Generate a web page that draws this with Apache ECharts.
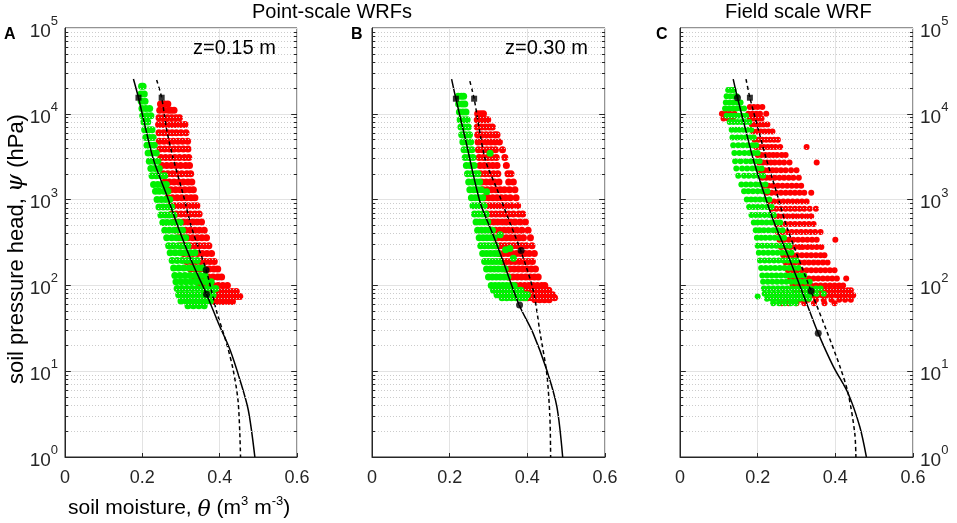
<!DOCTYPE html>
<head>
    <meta charset="utf-8">
    <title>WRF</title>
    <style>
        html, body { margin: 0; padding: 0; background: #fff; }
        #main { width: 957px; height: 523px; }
    </style>
</head>
<body>
<div id="main"></div>
<script src="https://cdn.jsdelivr.net/npm/echarts@6/dist/echarts.min.js"></script>
<script type="text/javascript">
    // tick values
    var xTicks = [0, 0.2, 0.4, 0.6];
    var yMin = 1, yMax = 100000;

    // scatter clouds, one row per psi level: [psi (hPa), theta, theta, ...]
    var greenA = [
        [21000, .198, .202], [17000, .196, .205], [14000, .197, .207],
        [11500, .199, .209, .219], [9500, .201, .212, .222], [8000, .204, .214],
        [6500, .206, .217, .225], [5300, .209, .219, .228], [4300, .212, .222, .231],
        [3500, .215, .225, .236], [2800, .218, .229, .240], [2300, .222, .233, .244],
        [1900, .225, .236, .248, .258], [1500, .229, .240, .251, .262],
        [1250, .234, .244, .256, .266], [1000, .238, .249, .260, .271],
        [820, .243, .254, .265, .276], [660, .248, .259, .270, .282],
        [540, .253, .264, .276, .288, .298], [440, .258, .270, .282, .294, .304],
        [360, .263, .276, .288, .300, .312], [290, .268, .280, .293, .306, .318],
        [240, .272, .285, .298, .311, .324, .336], [195, .277, .290, .303, .316, .329, .342],
        [160, .281, .294, .307, .320, .333, .346, .356], [130, .284, .297, .310, .323, .336, .349, .362],
        [110, .287, .300, .313, .326, .339, .352, .365, .378],
        [92, .290, .302, .315, .328, .341, .354, .367, .380, .390],
        [78, .294, .306, .318, .331, .344, .357, .370, .383],
        [66, .300, .313, .326, .339, .352, .365, .376], [58, .318, .332, .346, .360]
    ];
    var redA = [
        [13000, .247, .258, .266], [11000, .245, .256, .267, .274, .282],
        [9000, .243, .254, .265, .276, .287, .296], [7500, .242, .253, .264, .275, .286, .298, .310],
        [6000, .243, .255, .266, .277, .288, .300, .313], [4800, .244, .256, .268, .280, .292, .304, .317],
        [3900, .246, .258, .270, .282, .294, .306, .318], [3100, .248, .260, .272, .284, .296, .309, .320],
        [2500, .251, .263, .275, .287, .299, .312, .322], [2000, .254, .266, .278, .290, .302, .315, .325],
        [1600, .258, .270, .282, .294, .306, .318, .328], [1300, .262, .274, .286, .298, .310, .322, .332],
        [1050, .266, .278, .290, .302, .314, .326, .336], [850, .271, .283, .295, .307, .319, .331, .341],
        [680, .276, .288, .300, .312, .324, .336, .347], [550, .282, .294, .306, .318, .330, .342, .353],
        [440, .288, .300, .312, .324, .336, .348, .360], [360, .294, .306, .318, .330, .342, .354, .366],
        [290, .300, .312, .324, .336, .348, .360, .372], [235, .307, .319, .331, .343, .355, .367, .379],
        [190, .315, .327, .339, .351, .363, .375, .386], [155, .325, .337, .349, .361, .373, .385, .395],
        [125, .335, .347, .359, .371, .383, .395, .405], [100, .348, .360, .372, .384, .396, .408, .420],
        [85, .360, .372, .384, .396, .408, .420, .432, .443],
        [74, .372, .384, .396, .408, .420, .432, .444, .452], [65, .385, .397, .409, .421, .433]
    ];
    var greenB = [
        [16000, .222, .230, .236], [13000, .223, .232, .239], [10500, .225, .234, .242],
        [8500, .227, .236, .245], [7000, .229, .238, .248], [5700, .231, .241, .251],
        [4700, .234, .244, .254], [3800, .237, .247, .257], [3100, .240, .250, .260],
        [2500, .243, .253, .263], [2000, .246, .256, .266, .273], [1600, .249, .259, .269, .277],
        [1300, .252, .262, .272, .281], [1050, .256, .266, .276, .285], [850, .260, .270, .280, .289],
        [680, .264, .274, .284, .294], [550, .268, .278, .288, .298],
        [440, .272, .282, .292, .302, .310], [360, .276, .286, .296, .306, .314],
        [290, .280, .290, .300, .310, .319], [235, .285, .295, .305, .315, .324],
        [190, .290, .300, .310, .320, .330], [155, .295, .305, .315, .325, .335, .343],
        [125, .300, .310, .320, .330, .340, .350], [100, .307, .317, .327, .337, .347, .357, .366],
        [88, .313, .323, .333, .343, .353, .363, .373, .383],
        [78, .322, .332, .342, .352, .362, .372, .382, .392, .400],
        [72, .335, .347, .359, .371, .383, .395],
        [3460, .304], [1236, .295], [390, .330], [270, .355], [260, .344], [207, .364]
    ];
    var redB = [
        [10000, .272, .280, .287], [8500, .271, .281, .290, .298],
        [7000, .271, .282, .292, .302, .310], [5700, .272, .283, .294, .305, .316, .322],
        [4700, .273, .284, .295, .306, .317, .328], [3800, .274, .285, .296, .307, .318, .336],
        [3100, .276, .287, .298, .309, .320, .342], [2500, .278, .289, .300, .311, .322, .346],
        [2000, .280, .291, .302, .313, .324, .350, .358], [1600, .283, .294, .305, .316, .327, .352, .364],
        [1300, .286, .297, .308, .319, .330, .341, .354, .368], [1050, .289, .300, .311, .322, .333, .344, .356, .371],
        [850, .293, .304, .315, .326, .337, .348, .360, .375],
        [680, .297, .308, .319, .330, .341, .352, .364, .378, .388],
        [550, .302, .313, .324, .335, .346, .357, .368, .381, .395],
        [440, .307, .318, .329, .340, .351, .362, .373, .386, .402],
        [360, .313, .324, .335, .346, .357, .368, .379, .390, .408],
        [290, .320, .331, .342, .353, .364, .375, .386, .397, .412],
        [235, .328, .339, .350, .361, .372, .383, .394, .405, .418],
        [190, .336, .347, .358, .369, .380, .391, .402, .413],
        [155, .344, .355, .366, .377, .388, .399, .410, .421],
        [125, .352, .363, .374, .385, .396, .407, .418, .428],
        [100, .360, .371, .382, .393, .404, .415, .426, .437, .445],
        [88, .368, .379, .390, .401, .412, .423, .434, .445, .455],
        [78, .378, .389, .400, .411, .422, .433, .444, .455, .465],
        [72, .390, .401, .412, .423, .434, .445, .456, .470], [68, .420, .432, .444, .456]
    ];
    var greenC = [
        [19000, .124, .132, .138], [16000, .120, .130, .140, .146],
        [13500, .118, .128, .138, .148, .156], [11500, .116, .126, .136, .146, .156, .165],
        [9500, .120, .130, .140, .150, .160, .170], [8000, .128, .138, .148, .158, .168, .178],
        [6500, .133, .143, .153, .163, .173, .183], [5300, .135, .147, .158, .169, .180, .190],
        [4300, .137, .150, .162, .174, .186, .196], [3500, .140, .153, .166, .178, .190, .200],
        [2800, .142, .156, .170, .182, .194, .205], [2300, .145, .160, .173, .186, .198, .210],
        [1900, .150, .165, .177, .190, .202, .214], [1500, .158, .170, .182, .195, .207, .220],
        [1250, .165, .176, .188, .200, .212, .225], [1000, .172, .183, .194, .206, .218, .230],
        [820, .178, .189, .200, .212, .224, .236], [660, .184, .195, .206, .218, .230, .242],
        [540, .190, .200, .211, .223, .235, .248, .258], [440, .195, .205, .216, .228, .240, .252, .264],
        [360, .198, .209, .220, .232, .244, .256, .268], [290, .200, .212, .224, .236, .248, .260, .272, .282],
        [240, .203, .215, .227, .239, .251, .263, .275, .287],
        [195, .206, .218, .230, .242, .254, .266, .278, .290, .300],
        [160, .209, .221, .233, .245, .257, .269, .281, .293, .305],
        [130, .212, .224, .236, .248, .260, .272, .284, .296, .308, .320],
        [110, .214, .226, .238, .250, .262, .274, .286, .298, .310, .322, .334],
        [92, .216, .228, .240, .252, .264, .276, .288, .300, .312, .324, .336, .350, .362],
        [80, .218, .230, .242, .254, .266, .278, .290, .302, .314, .326, .338, .352, .370],
        [70, .224, .236, .248, .260, .272, .284, .296, .308, .320, .332],
        [62, .240, .255, .270, .285, .298], [74, .200]
    ];
    var redC = [
        [12000, .180, .190, .200, .212], [10000, .108, .118, .128, .140, .176, .186, .196, .206, .222],
        [8800, .112, .124, .136, .180, .190, .200, .210], [7500, .185, .195, .205, .215, .225],
        [6200, .188, .198, .208, .218, .228, .238], [5000, .192, .202, .212, .222, .232, .242, .252],
        [4100, .196, .206, .216, .226, .236, .246, .258, .326],
        [3300, .200, .210, .220, .230, .240, .250, .262, .272],
        [2700, .204, .214, .224, .234, .244, .256, .268, .282, .352],
        [2200, .208, .218, .228, .238, .248, .260, .272, .286, .300],
        [1800, .212, .222, .232, .244, .256, .268, .280, .292, .306],
        [1450, .218, .228, .240, .252, .264, .276, .288, .300, .312],
        [1200, .224, .236, .248, .260, .272, .284, .296, .308, .320, .338],
        [950, .230, .242, .254, .266, .278, .290, .302, .314, .326],
        [780, .236, .248, .260, .272, .284, .296, .308, .320, .334, .350],
        [640, .242, .254, .266, .278, .290, .302, .314, .326, .338],
        [520, .248, .260, .272, .284, .296, .308, .320, .332, .344],
        [420, .252, .264, .276, .288, .300, .312, .324, .336, .348, .362],
        [340, .256, .268, .280, .292, .304, .316, .328, .340, .352, .400],
        [280, .260, .272, .284, .296, .308, .316, .328, .340, .352, .364],
        [225, .266, .278, .290, .302, .314, .326, .338, .350, .362, .372],
        [185, .272, .284, .296, .308, .320, .332, .344, .356, .368, .380],
        [150, .278, .290, .302, .314, .326, .338, .350, .362, .374, .386, .398],
        [120, .284, .296, .308, .320, .332, .344, .356, .368, .380, .392, .404, .428],
        [100, .290, .302, .314, .326, .338, .350, .362, .374, .386, .398, .410, .420],
        [88, .300, .312, .324, .336, .348, .360, .372, .384, .396, .408, .420, .432, .440],
        [77, .306, .318, .330, .342, .354, .366, .378, .390, .402, .414, .426, .438, .446],
        [68, .270, .290, .310, .330, .350, .370, .390, .410, .425, .440],
        [62, .262, .280, .300, .320, .345, .372, .398]
    ];

    // retention curves [theta, psi]
    var solidA = [[.177, 25400], [.190, 15400], [.228, 3000], [.263, 1130], [.297, 423], [.328, 189],
        [.366, 79], [.397, 36], [.427, 17.7], [.4525, 7.9], [.474, 3.53], [.491, 1]];
    var dashedA = [[.237, 24800], [.250, 15400], [.263, 6500], [.280, 3000], [.306, 1130], [.328, 462],
        [.365, 151], [.392, 50], [.418, 21], [.435, 10.3], [.448, 4.3], [.454, 1]];
    var solidB = [[.205, 25400], [.216, 15000], [.242, 4730], [.278, 946], [.312, 387], [.338, 189],
        [.379, 59], [.415, 27.6], [.450, 10.3], [.476, 3.86], [.491, 1]];
    var dashedB = [[.252, 24000], [.263, 15000], [.291, 3000], [.321, 1355], [.351, 600], [.384, 246],
        [.415, 88], [.433, 27.6], [.450, 9.4], [.458, 2.95], [.460, 1]];
    var solidC = [[.137, 25400], [.148, 15400], [.171, 6000], [.189, 2900], [.216, 1200], [.240, 580],
        [.283, 196], [.326, 62], [.356, 27.6], [.395, 11.3], [.433, 5.5], [.463, 2.25], [.480, 1]];
    var dashedC = [[.170, 25400], [.180, 15400], [.204, 6000], [.223, 2900], [.249, 1200], [.275, 480],
        [.3375, 86], [.377, 30], [.412, 11.3], [.433, 5.5], [.450, 1.9], [.453, 1]];

    var squaresA = [[.190, 15400], [.250, 15400]];
    var dotsA = [[.366, 79], [.365, 151]];
    var squaresB = [[.216, 15000], [.263, 15000]];
    var dotsB = [[.380, 59], [.384, 255]];
    var squaresC = [[.180, 15400]];
    var dotsC = [[.148, 15400], [.3375, 86], [.356, 27.6]];

    var panels = [
        {green: greenA, red: redA, solid: solidA, dashed: dashedA, sq: squaresA, dot: dotsA, size: 7},
        {green: greenB, red: redB, solid: solidB, dashed: dashedB, sq: squaresB, dot: dotsB, size: 7},
        {green: greenC, red: redC, solid: solidC, dashed: dashedC, sq: squaresC, dot: dotsC, size: 6}
    ];

    function toPoints(rows) {
        var pts = [];
        rows.forEach(function (r) {
            for (var i = 1; i < r.length; i++) pts.push([r[i], r[0]]);
        });
        return pts;
    }

    // dotted minor grid at 2..9 x 10^k
    var yMinor = [], yMajor = [];
    for (var k = 1; k < yMax; k *= 10) {
        yMajor.push(k);
        for (var m = 2; m <= 9; m++) yMinor.push(m * k);
    }

    var FONT = 'Liberation Sans';
    var ink = '#262626';
    var supRich = {
        b: {fontSize: 19, fontFamily: FONT, color: ink, lineHeight: 26, verticalAlign: 'bottom'},
        s: {fontSize: 13, fontFamily: FONT, color: ink, lineHeight: 26, verticalAlign: 'top'}
    };

    var grids = [
        {left: 65, top: 28, width: 232, height: 429},
        {left: 372, top: 28, width: 233, height: 429},
        {left: 680, top: 28, width: 233, height: 429}
    ];
    grids.forEach(function (g) {
        g.show = true; g.borderColor = ink; g.borderWidth = 1; g.backgroundColor = '#fff';
        g.outerBoundsMode = 'none'; g.containLabel = false;
    });

    // short tick segments on both vertical sides of a panel
    function sideTicks(values, len) {
        var out = [];
        values.forEach(function (v) {
            out.push([{coord: [0, v]}, {coord: [len, v]}]);
            out.push([{coord: [0.6 - len, v]}, {coord: [0.6, v]}]);
        });
        return out;
    }

    var xAxes = [], yAxes = [], series = [];
    panels.forEach(function (p, i) {
        xAxes.push({
            gridIndex: i, type: 'value', min: xTicks[0], max: xTicks[xTicks.length - 1], interval: 0.2,
            axisLine: {lineStyle: {color: ink}},
            axisTick: {inside: true, length: 4, lineStyle: {color: ink}},
            axisLabel: {fontSize: 18, fontFamily: FONT, color: ink, margin: 12,
                formatter: function (v) { return v === 0 ? '0' : v.toFixed(1); }},
            splitLine: {lineStyle: {color: '#e3e3e3'}}
        });
        yAxes.push({
            gridIndex: i, type: 'log', logBase: 10, min: yMin, max: yMax,
            position: i === 2 ? 'right' : 'left',
            axisLine: {lineStyle: {color: ink}},
            axisTick: {show: false},
            axisLabel: {show: i !== 1, margin: 7,
                formatter: function (v) { return '{b|10}{s|' + Math.round(Math.log10(v)) + '}'; },
                rich: supRich},
            splitLine: {lineStyle: {color: '#e3e3e3'}}
        });
        // minor grid lines
        series.push({
            type: 'scatter', xAxisIndex: i, yAxisIndex: i, data: [], z: 1, silent: true,
            markLine: {silent: true, symbol: 'none', label: {show: false}, animation: false,
                lineStyle: {color: '#cccccc', type: [1, 2], width: 1},
                data: yMinor.map(function (v) { return {yAxis: v}; })}
        });
        series.push({
            type: 'scatter', xAxisIndex: i, yAxisIndex: i, data: toPoints(p.red), z: 2,
            symbolSize: p.size, itemStyle: {color: '#ff0000', opacity: 1}, animation: false
        });
        series.push({
            type: 'scatter', xAxisIndex: i, yAxisIndex: i, data: toPoints(p.green), z: 3,
            symbolSize: p.size, itemStyle: {color: '#00f000', opacity: 1}, animation: false
        });
        [['solid', p.solid], ['dashed', p.dashed]].forEach(function (c) {
            series.push({
                type: 'line', xAxisIndex: i, yAxisIndex: i, data: c[1], z: 4, smooth: 0.3,
                showSymbol: false, animation: false,
                lineStyle: {color: '#000', width: 1.5, type: c[0] === 'solid' ? 'solid' : [4, 3]}
            });
        });
        series.push({
            type: 'scatter', xAxisIndex: i, yAxisIndex: i, data: p.sq, z: 5, symbol: 'rect',
            symbolSize: 6, itemStyle: {color: '#000'}, animation: false
        });
        // dots, plus inward tick marks on the box sides
        series.push({
            type: 'scatter', xAxisIndex: i, yAxisIndex: i, data: p.dot, z: 5, symbol: 'circle',
            symbolSize: 7, itemStyle: {color: '#000'}, animation: false,
            markLine: {silent: true, symbol: 'none', label: {show: false}, animation: false,
                lineStyle: {color: ink, type: 'solid', width: 1},
                data: sideTicks(yMinor, 0.008).concat(sideTicks(yMajor, 0.015))}
        });
    });

    function txt(x, y, text, size, weight) {
        return {type: 'text', left: x, top: y, z: 10,
            style: {text: text, fontSize: size, fontFamily: FONT, fontWeight: weight || 'normal', fill: '#000'}};
    }

    var chart = echarts.init(document.getElementById('main'));
    chart.setOption({
        backgroundColor: '#fff',
        animation: false,
        grid: grids,
        xAxis: xAxes,
        yAxis: yAxes,
        series: series,
        graphic: [
            txt(252, 2, 'Point-scale WRFs', 20),
            txt(725, 2, 'Field scale WRF', 20),
            txt(4, 27, 'A', 16, 'bold'),
            txt(351, 27, 'B', 16, 'bold'),
            txt(656, 27, 'C', 16, 'bold'),
            txt(193, 38, 'z=0.15 m', 20),
            txt(505, 38, 'z=0.30 m', 20),
            {type: 'text', left: 68, top: 495, z: 10, style: {
                text: 'soil moisture, {i|\u03B8} (m{s|3} m{s|-3})',
                fontSize: 21, fontFamily: FONT, fill: '#000',
                rich: {
                    i: {fontSize: 22, fontFamily: 'DejaVu Serif', fontStyle: 'italic', fill: '#000', lineHeight: 26, verticalAlign: 'bottom'},
                    s: {fontSize: 13, fontFamily: FONT, fill: '#000', lineHeight: 26, verticalAlign: 'top'}
                }}},
            {type: 'text', x: 5, y: 384, rotation: Math.PI / 2, z: 10, style: {
                text: 'soil pressure head, {i|\u03C8} (hPa)',
                fontSize: 22, fontFamily: FONT, fill: '#000', verticalAlign: 'top',
                rich: {
                    i: {fontSize: 23, fontFamily: 'DejaVu Serif', fontStyle: 'italic', fill: '#000'}
                }}}
        ]
    });
</script>
</body>
